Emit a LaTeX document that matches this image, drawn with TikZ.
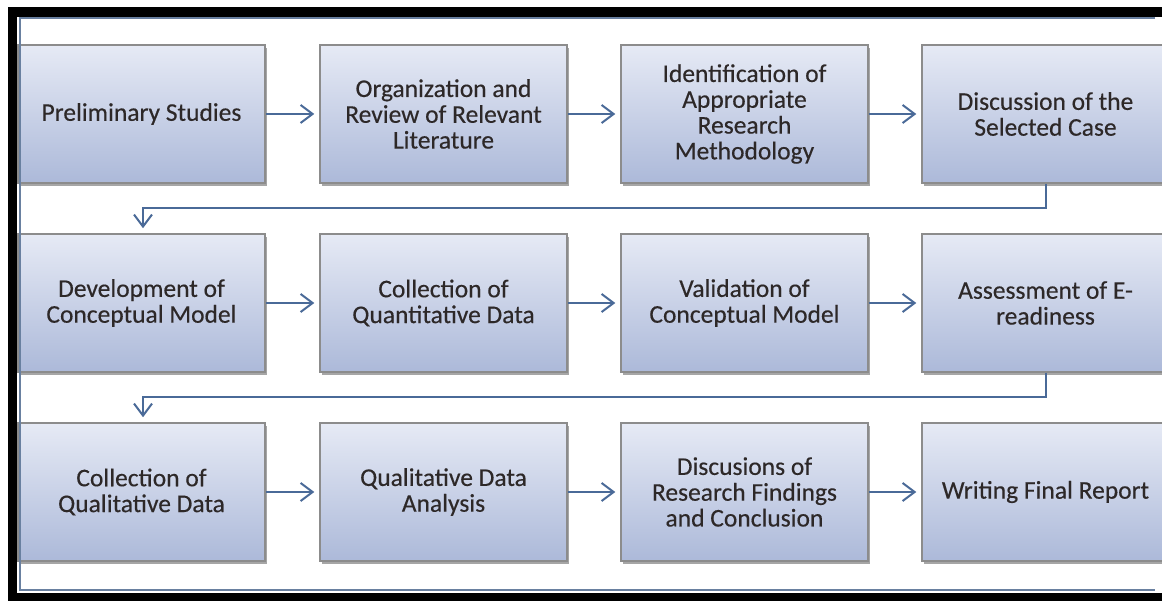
\documentclass[tikz,border=0pt]{standalone}
\usepackage{fontspec}
\setmainfont{Carlito}[FakeBold=0.35]
\usetikzlibrary{arrows.meta,shadows}
\definecolor{boxtop}{RGB}{230,234,245}
\definecolor{boxbot}{RGB}{172,185,217}
\definecolor{boxline}{RGB}{140,140,140}
\definecolor{arrowc}{RGB}{74,106,152}
\definecolor{txt}{RGB}{45,40,40}
\definecolor{framec}{RGB}{105,128,160}
\tikzset{
  stepbox/.style={rectangle, draw=boxline, line width=1.5pt,
    top color=boxtop, bottom color=boxbot,
    minimum width=247pt, minimum height=138pt, inner sep=0pt,
    align=center, text=txt,
    font=\fontsize{25.5}{25.8}\selectfont,
    drop shadow={shadow xshift=2pt, shadow yshift=-3pt, opacity=0.35, fill=black}},
  flow/.style={draw=arrowc, line width=2pt,
    -{Straight Barb[length=12pt,width=18pt,line width=2pt]}, shorten >=5pt},
  elbow/.style={draw=arrowc, line width=2pt,
    -{Straight Barb[length=12pt,width=18pt,line width=2pt]}, shorten >=5pt},
}
\begin{document}
\begin{tikzpicture}[x=1pt,y=-1pt]
\useasboundingbox (0,0) rectangle (1162,601);
\fill[white] (0,0) rectangle (1162,601);
% row 1
\node[stepbox] (a1) at (141.5,114) {Preliminary Studies};
\node[stepbox] (a2) at (443.5,114) {Organization and\\Review of Relevant\\Literature};
\node[stepbox] (a3) at (744.5,114) {Identification of\\Appropriate\\Research\\Methodology};
\node[stepbox] (a4) at (1045.5,114) {Discussion of the\\Selected Case};
% row 2
\node[stepbox] (b1) at (141.5,303) {Development of\\Conceptual Model};
\node[stepbox] (b2) at (443.5,303) {Collection of\\Quantitative Data};
\node[stepbox] (b3) at (744.5,303) {Validation of\\Conceptual Model};
\node[stepbox] (b4) at (1045.5,303) {Assessment of E-\\readiness};
% row 3
\node[stepbox] (c1) at (141.5,492) {Collection of\\Qualitative Data};
\node[stepbox] (c2) at (443.5,492) {Qualitative Data\\Analysis};
\node[stepbox] (c3) at (744.5,492) {Discusions of\\Research Findings\\and Conclusion};
\node[stepbox] (c4) at (1045.5,492) {Writing Final Report};
% horizontal connectors
\draw[flow] (a1) -- (a2);
\draw[flow] (a2) -- (a3);
\draw[flow] (a3) -- (a4);
\draw[flow] (b1) -- (b2);
\draw[flow] (b2) -- (b3);
\draw[flow] (b3) -- (b4);
\draw[flow] (c1) -- (c2);
\draw[flow] (c2) -- (c3);
\draw[flow] (c3) -- (c4);
% row-to-row connectors
\draw[elbow] (a4.south) |- (143,208) -- (b1.north -| 143,0);
\draw[elbow] (b4.south) |- (143,397) -- (c1.north -| 143,0);
% frame
\fill[black] (8,7) rectangle (1162,17);
\fill[black] (8,7) rectangle (17,601);
\fill[black] (8,593) rectangle (1162,601);
\draw[framec, line width=1.5pt] (1155,18) -- (20,18) -- (20,590) -- (1155,590);
\end{tikzpicture}
\end{document}
